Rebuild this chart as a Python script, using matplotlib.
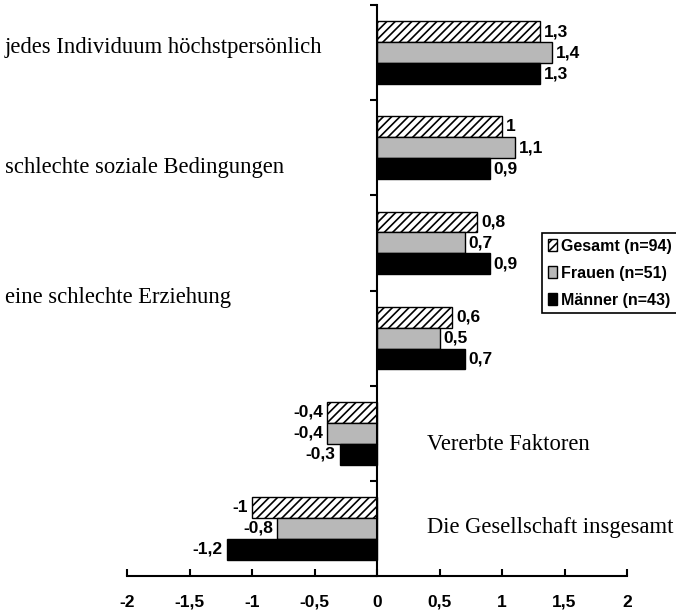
import numpy as np
import matplotlib
matplotlib.use("Agg")
import matplotlib.pyplot as plt
from matplotlib.patches import Patch

# data
categories = ["jedes Individuum höchstpersönlich",
              "schlechte soziale Bedingungen",
              "eine schlechte Erziehung",
              "",
              "Vererbte Faktoren",
              "Die Gesellschaft insgesamt"]
gesamt = [1.3, 1.0, 0.8, 0.6, -0.4, -1.0]
frauen = [1.4, 1.1, 0.7, 0.5, -0.4, -0.8]
maenner = [1.3, 0.9, 0.9, 0.7, -0.3, -1.2]
series_names = ["Gesamt (n=94)", "Frauen (n=51)", "Männer (n=43)"]
x_ticks = [-2, -1.5, -1, -0.5, 0, 0.5, 1, 1.5, 2]

# category label placement (figure pixels)
label_pos = [(5, 47), (5, 168), (5, 297), None, (427, 445), (427, 527)]

W, H = 676, 615
fig = plt.figure(figsize=(W / 100, H / 100), dpi=100)
ax = fig.add_axes([127 / W, (H - 576) / H, 500 / W, 571 / H])

n = len(gesamt)
y = np.arange(n)
h = 0.22
styles = [dict(facecolor="white", edgecolor="black", hatch="////"),
          dict(facecolor="#b8b8b8", edgecolor="black"),
          dict(facecolor="black", edgecolor="black")]

plt.rcParams["hatch.linewidth"] = 1.2
for i, (vals, st) in enumerate(zip([gesamt, frauen, maenner], styles)):
    pos = y + (i - 1) * h
    ax.barh(pos, vals, height=h, linewidth=1, **st)
    for p, v in zip(pos, vals):
        txt = f"{v:g}".replace(".", ",")
        ax.annotate(txt, (v, p), xytext=(3 if v >= 0 else -3, 0),
                    textcoords="offset points",
                    ha="left" if v >= 0 else "right", va="center",
                    fontsize=12.5, fontweight="bold", family="Liberation Sans")

ax.set_xlim(-2, 2)
ax.set_ylim(n - 0.5, -0.5)

for s in ["top", "right"]:
    ax.spines[s].set_visible(False)
ax.spines["left"].set_position(("data", 0))
ax.spines["left"].set_linewidth(1.5)
ax.spines["bottom"].set_linewidth(1.5)

ax.set_yticks(np.arange(-0.5, n, 1))
ax.set_yticklabels([])
ax.tick_params(axis="y", direction="out", length=5, width=1.5)
ax.set_xticks(x_ticks)
ax.set_xticklabels([f"{t:g}".replace(".", ",") for t in x_ticks],
                   fontsize=12.5, fontweight="bold", family="Liberation Sans")
ax.tick_params(axis="x", direction="in", length=5, width=1.5, pad=22)
for lbl in ax.get_xticklabels():
    lbl.set_verticalalignment("baseline")

for lab, lp in zip(categories, label_pos):
    if lp is None:
        continue
    px, py = lp
    fig.text(px / W, 1 - py / H, lab, ha="left", va="center",
             fontsize=16.3, family="Liberation Serif")

handles = [Patch(**st, linewidth=1) for st in styles]
leg = fig.legend(handles, series_names, loc="upper left",
                 bbox_to_anchor=(542 / W, 1 - 233 / H),
                 prop=dict(family="Liberation Sans", weight="bold", size=11.5),
                 handlelength=0.6, handleheight=0.7, handletextpad=0.25,
                 labelspacing=0.75, borderpad=0.35, borderaxespad=0,
                 fancybox=False, edgecolor="black", framealpha=1)
leg.get_frame().set_linewidth(1.2)

fig.savefig("out.png", dpi=100)
